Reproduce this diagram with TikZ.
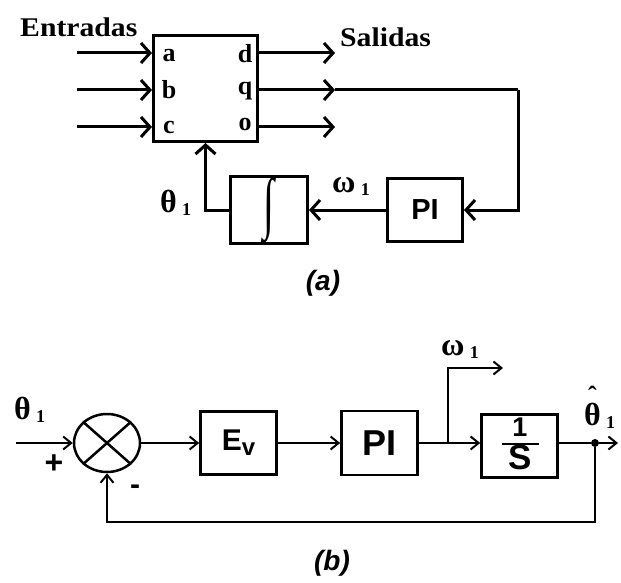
\documentclass[tikz,border=0pt]{standalone}
\usepackage{fontspec}
\setmainfont{Liberation Serif}
\setsansfont{Liberation Sans}
\newfontfamily\serw[FakeStretch=1.1]{Liberation Serif}
\usetikzlibrary{arrows.meta,shapes.geometric}
\tikzset{
  lineA/.style={line width=3pt},
  tipA/.style={-{Straight Barb[length=9pt,width=20pt]}},
  boxA/.style={draw,line width=3pt,inner sep=0pt},
  lineB/.style={line width=2pt},
  tipB/.style={-{Straight Barb[length=8pt,width=13pt]}},
  boxB/.style={draw,line width=2.6pt,inner sep=0pt},
  txt/.style={inner sep=0pt},
  port/.style={inner sep=0pt,font=\bfseries\fontsize{26}{26}\selectfont},
  big/.style={inner sep=0pt,font=\serw\bfseries\fontsize{27}{27}\selectfont},
  greek/.style={inner sep=0pt,anchor=base west,font=\fontsize{32}{32}\selectfont},
  captxt/.style={inner sep=0pt,font=\sffamily\bfseries\itshape\fontsize{28}{28}\selectfont},
}
\newcommand{\subone}{\,\raisebox{-3pt}{\fontsize{18}{18}\selectfont 1}}
\begin{document}
\begin{tikzpicture}[x=1pt,y=-1pt]
\useasboundingbox (0,0) rectangle (621,583);
% ---------------- (a) ----------------
\node[boxA,minimum width=104pt,minimum height=106pt] (blk) at (205.5,88.5) {};
\coordinate (ia) at (77,53);
\coordinate (ib) at (77,90);
\coordinate (ic) at (77,127);
\draw[lineA,tipA] (ia) -- (blk.west|-ia);
\draw[lineA,tipA] (ib) -- (blk.west|-ib);
\draw[lineA,tipA] (ic) -- (blk.west|-ic);
\coordinate (od) at (335,53);
\coordinate (oq) at (335,90);
\coordinate (oo) at (335,127);
\draw[lineA,tipA] (blk.east|-od) -- (od);
\draw[lineA,tipA] (blk.east|-oq) -- (oq);
\draw[lineA,tipA] (blk.east|-oo) -- (oo);
\node[port] (la) at (169,55.5) {a};
\node[port] (lb) at (169,90) {b};
\node[port] (lc) at (169,127) {c};
\node[port] (ld) at (245,54) {d};
\node[port] (lq) at (245,91.5) {q};
\node[port] (lo) at (245,124.5) {o};
\node[big,anchor=base west] (entr) at (20,37) {Entradas};
\node[big,anchor=base west] (sal) at (340,47) {Salidas};
\node[boxA,minimum width=75pt,minimum height=63pt,font=\sffamily\bfseries\fontsize{29}{29}\selectfont] (pia) at (425,210) {PI};
\node[boxA,minimum width=77pt,minimum height=63pt] (int) at (269,210) {\fontsize{40}{40}\selectfont\scalebox{1}[1.7]{∫}};
\coordinate (qr) at (518,90);
\draw[lineA] (oq) -- (qr);
\draw[lineA,tipA] (qr) |- (pia.east);
\draw[lineA,tipA] (pia.west) -- (int.east);
\draw[lineA,tipA] (int.west) -| (blk.south);
\node[greek] (wa) at (332,192) {\bfseries ω\subone};
\node[greek] (tha) at (160,212) {\bfseries θ\subone};
\node[captxt] (capa) at (323,283) {(a)};
% ---------------- (b) ----------------
\node[draw,ellipse,line width=2.5pt,minimum width=66pt,minimum height=58pt,inner sep=0pt] (sum) at (107,443) {};
\draw[line width=2.5pt] (sum.north west) -- (sum.south east) (sum.north east) -- (sum.south west);
\coordinate (tin) at (16,443);
\draw[lineB,tipB] (tin) -- (sum.west);
\node[greek] (thb) at (14,419) {\bfseries θ\subone};
\node[txt,font=\sffamily\bfseries\fontsize{32}{32}\selectfont] (plus) at (54,464) {+};
\node[txt,font=\sffamily\bfseries\fontsize{30}{30}\selectfont] (minus) at (135,490) {-};
\node[boxB,minimum width=76pt,minimum height=63pt,font=\sffamily\bfseries\fontsize{30}{30}\selectfont] (ev) at (238.5,443) {E\raisebox{-5pt}{\fontsize{24}{24}\selectfont v}};
\node[boxB,minimum width=76pt,minimum height=64pt,font=\sffamily\bfseries\fontsize{36}{36}\selectfont] (pib) at (379.5,443) {PI};
\node[boxB,minimum width=76pt,minimum height=63pt] (is) at (519.5,446) {};
\node[txt,font=\sffamily\bfseries\fontsize{27}{27}\selectfont] (one) at (520,427.5) {1};
\node[txt,font=\sffamily\bfseries\fontsize{35}{35}\selectfont] (ess) at (520,457) {S};
\coordinate (barl) at (502,444);
\coordinate (barr) at (539,444);
\draw[line width=1.8pt] (barl) -- (barr);
\draw[lineB,tipB] (sum.east) -- (ev.west|-sum.east);
\draw[lineB,tipB] (ev.east) -- (pib.west);
\coordinate (br) at (448,443);
\draw[lineB] (pib.east) -- (br);
\draw[lineB,tipB] (br) -- (is.west|-br);
\coordinate (wtop) at (448,368);
\coordinate (wend) at (503,368);
\draw[lineB,tipB] (br) -- (wtop) -- (wend);
\node[greek] (wb) at (441,355) {\bfseries ω\subone};
\node[circle,fill,inner sep=0pt,minimum size=8pt] (dot) at (595,443) {};
\coordinate (tout) at (618,443);
\draw[lineB] (is.east|-br) -- (dot);
\draw[lineB,tipB] (dot) -- (tout);
\coordinate (fb) at (595,522);
\draw[lineB,tipB] (dot) -- (fb) -| (sum.south);
\node[greek] (thh) at (584,425) {\bfseries\shortstack{{\fontsize{26}{26}\selectfont ˆ}\\[-5pt]θ}\subone};
\node[captxt] (capb) at (332,563) {(b)};
\end{tikzpicture}
\end{document}
